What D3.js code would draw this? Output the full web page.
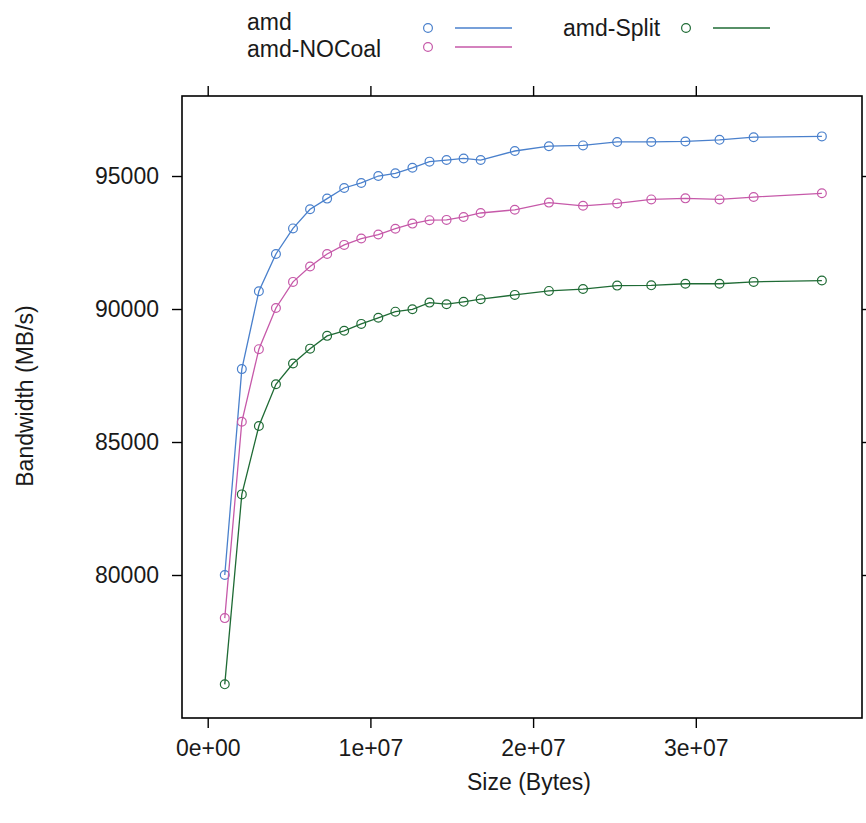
<!DOCTYPE html>
<html>
<head>
<meta charset="utf-8">
<script src="https://cdn.jsdelivr.net/npm/d3@7"></script>
<style>
  body { margin: 0; background: #fff; }
  text { font-family: "Liberation Sans", Arial, sans-serif; fill: #1a1a1a; }
</style>
</head>
<body>
<script>
// data (sizes in MiB, bandwidth in MB/s)
var sizeMiB = [1, 2, 3, 4, 5, 6, 7, 8, 9, 10, 11, 12, 13, 14, 15, 16, 18, 20, 22, 24, 26, 28, 30, 32, 36];
var amd = [80000, 87740, 90670, 92070, 93030, 93750, 94150, 94550, 94740, 95000, 95100, 95310, 95540,
           95600, 95660, 95600, 95940, 96120, 96150, 96280, 96280, 96300, 96360, 96460, 96490];
var amdNOCoal = [78380, 85760, 88490, 90040, 91020, 91600, 92070, 92410, 92650, 92800, 93020, 93210, 93340,
                 93350, 93460, 93610, 93730, 94000, 93880, 93970, 94120, 94160, 94120, 94210, 94350];
var amdSplit = [75890, 83030, 85600, 87170, 87950, 88510, 88990, 89180, 89440, 89670, 89900, 89990, 90240,
                90180, 90270, 90370, 90530, 90680, 90750, 90880, 90890, 90950, 90950, 91020, 91070];
var seriesNames = ["amd", "amd-NOCoal", "amd-Split"];
var xTicks = [0, 1e7, 2e7, 3e7];
var xTickLabels = ["0e+00", "1e+07", "2e+07", "3e+07"];
var yTicks = [80000, 85000, 90000, 95000];

var colors = ["#4a80cc", "#c659a9", "#1f6b35"];

// panel box
var panel = {left: 182, right: 862, top: 96, bottom: 718};

var svg = d3.select("body").append("svg")
    .attr("width", 866)
    .attr("height", 823);

// scales
var x = d3.scaleLinear().domain([-1.58e6, 4.0215e7]).range([panel.left, panel.right]);
var y = d3.scaleLinear().domain([74624, 98008]).range([panel.bottom, panel.top]);

var series = [amd, amdNOCoal, amdSplit].map(function (vals, i) {
    return {
        name: seriesNames[i],
        color: colors[i],
        values: vals.map(function (v, j) { return {size: sizeMiB[j] * 1048576, bw: v}; })
    };
});

// axes: ticks on all four sides, labels on left and bottom only
function styleAxis(g) {
    g.select(".domain").remove();
    g.selectAll(".tick line").attr("stroke", "#000").attr("stroke-width", 1.4);
    g.selectAll(".tick text").style("font-size", "23px").attr("fill", "#1a1a1a");
}

svg.append("g")
    .attr("transform", "translate(0," + panel.bottom + ")")
    .call(d3.axisBottom(x).tickValues(xTicks).tickSize(10).tickPadding(12)
        .tickFormat(function (d, i) { return xTickLabels[i]; }))
    .call(styleAxis);

svg.append("g")
    .attr("transform", "translate(0," + panel.top + ")")
    .call(d3.axisTop(x).tickValues(xTicks).tickSize(10).tickFormat(""))
    .call(styleAxis);

svg.append("g")
    .attr("transform", "translate(" + panel.left + ",0)")
    .call(d3.axisLeft(y).tickValues(yTicks).tickSize(10).tickPadding(13).tickFormat(d3.format("d")))
    .call(styleAxis);

svg.append("g")
    .attr("transform", "translate(" + panel.right + ",0)")
    .call(d3.axisRight(y).tickValues(yTicks).tickSize(10).tickFormat(""))
    .call(styleAxis);

// panel border
svg.append("rect")
    .attr("x", panel.left)
    .attr("y", panel.top)
    .attr("width", panel.right - panel.left)
    .attr("height", panel.bottom - panel.top)
    .attr("fill", "none")
    .attr("stroke", "#000")
    .attr("stroke-width", 1.6);

// lines + points
var line = d3.line()
    .x(function (d) { return x(d.size); })
    .y(function (d) { return y(d.bw); });

series.forEach(function (s) {
    svg.append("path")
        .datum(s.values)
        .attr("d", line)
        .attr("fill", "none")
        .attr("stroke", s.color)
        .attr("stroke-width", 1.3);

    svg.append("g").selectAll("circle")
        .data(s.values)
        .enter().append("circle")
        .attr("cx", function (d) { return x(d.size); })
        .attr("cy", function (d) { return y(d.bw); })
        .attr("r", 4.4)
        .attr("fill", "none")
        .attr("stroke", s.color)
        .attr("stroke-width", 1.2);
});

// axis titles
svg.append("text")
    .attr("x", 529)
    .attr("y", 790)
    .attr("text-anchor", "middle")
    .style("font-size", "23px")
    .text("Size (Bytes)");

svg.append("text")
    .attr("transform", "translate(33,396) rotate(-90)")
    .attr("text-anchor", "middle")
    .style("font-size", "23px")
    .text("Bandwidth (MB/s)");

// legend (lattice-style key above the panel)
var legendPos = [
    {tx: 247, ty: 30, px: 428, py: 28, lx: 455},
    {tx: 247, ty: 57, px: 428, py: 47, lx: 455},
    {tx: 563, ty: 36, px: 686, py: 28, lx: 713}
];
series.forEach(function (s, i) {
    var p = legendPos[i];
    svg.append("text")
        .attr("x", p.tx)
        .attr("y", p.ty)
        .style("font-size", "23px")
        .text(s.name);
    svg.append("circle")
        .attr("cx", p.px)
        .attr("cy", p.py)
        .attr("r", 4.4)
        .attr("fill", "none")
        .attr("stroke", s.color)
        .attr("stroke-width", 1.2);
    svg.append("line")
        .attr("x1", p.lx)
        .attr("x2", p.lx + 57)
        .attr("y1", p.py)
        .attr("y2", p.py)
        .attr("stroke", s.color)
        .attr("stroke-width", 1.6);
});
</script>
</body>
</html>
